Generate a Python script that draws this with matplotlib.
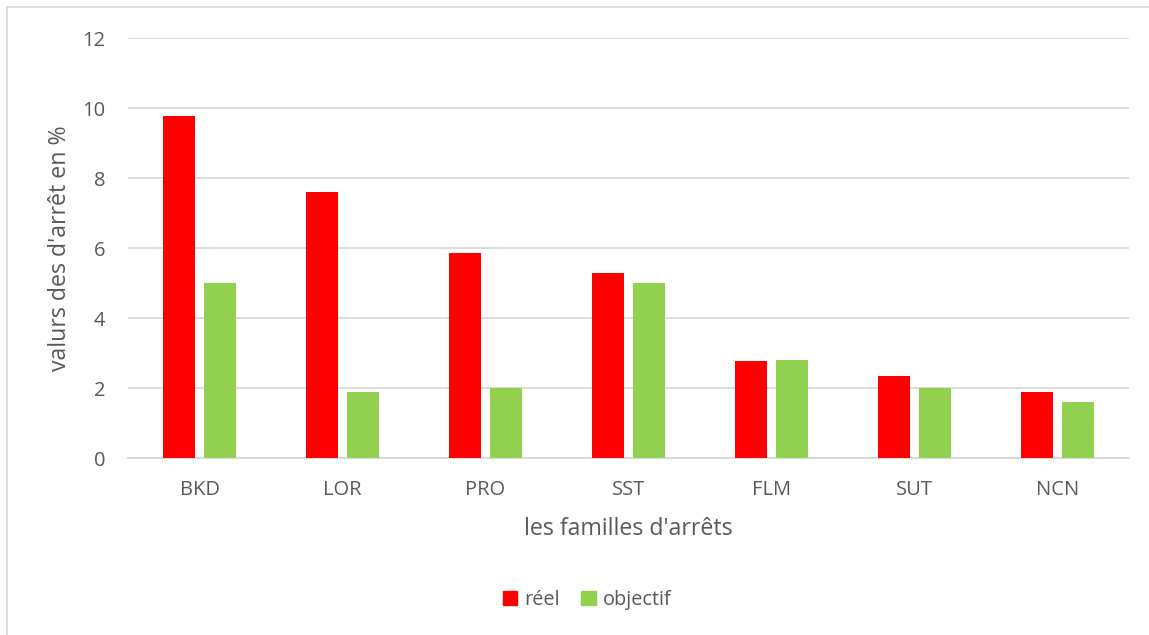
import numpy as np
import matplotlib
matplotlib.use("Agg")
from matplotlib import pyplot as plt
from matplotlib.patches import Rectangle, Patch

categories = ["BKD", "LOR", "PRO", "SST", "FLM", "SUT", "NCN"]
reel = [9.77, 7.59, 5.86, 5.30, 2.78, 2.33, 1.90]
objectif = [5.0, 1.89, 2.0, 5.0, 2.8, 2.0, 1.6]
yticks = [0, 2, 4, 6, 8, 10, 12]

txt = "#595959"
plt.rcParams["font.family"] = ["Open Sans", "DejaVu Sans"]

W, H = 1149, 635
fig = plt.figure(figsize=(W / 100, H / 100), dpi=100)
ax = fig.add_axes([128 / W, 1 - 458 / H, (1129 - 128) / W, (458 - 38) / H])

x = np.arange(len(categories))
bw = 0.224
ax.bar(x - 0.143, reel, bw, color="#ff0000", label="réel", zorder=3)
ax.bar(x + 0.143, objectif, bw, color="#92d050", label="objectif", zorder=3)

ax.set_xlim(-0.5, len(categories) - 0.5)
ax.set_ylim(0, 12)
ax.set_yticks(yticks)
ax.set_xticks(x)
ax.set_xticklabels(categories)
ax.tick_params(axis="both", length=0, colors=txt, labelsize=14.5)
ax.tick_params(axis="y", pad=16.5)
ax.tick_params(axis="x", pad=16)
ax.grid(axis="y", color="#d9d9d9", linewidth=1.3, zorder=0)
for s in ["top", "right", "left"]:
    ax.spines[s].set_visible(False)
ax.spines["bottom"].set_color("#d9d9d9")
ax.spines["bottom"].set_linewidth(1.3)

ax.set_xlabel("les familles d'arrêts", fontsize=16.7, color=txt, labelpad=12)
ax.set_ylabel("valurs des d'arrêt en %", fontsize=16.7, color=txt, labelpad=7)

handles = [Patch(color="#ff0000", label="réel"), Patch(color="#92d050", label="objectif")]
fig.legend(handles=handles, loc="center", bbox_to_anchor=(587 / W, 1 - 600 / H), ncol=2,
           frameon=False, fontsize=14.3, labelcolor=txt, handlelength=0.72, handleheight=0.72,
           handletextpad=0.35, columnspacing=1.1)

fig.patches.append(Rectangle((7 / W, -0.01), 1.0, 1 - 7 / H + 0.01, transform=fig.transFigure,
                             fill=False, edgecolor="#d9d9d9", linewidth=1.3))

fig.savefig("out.png", dpi=100)
